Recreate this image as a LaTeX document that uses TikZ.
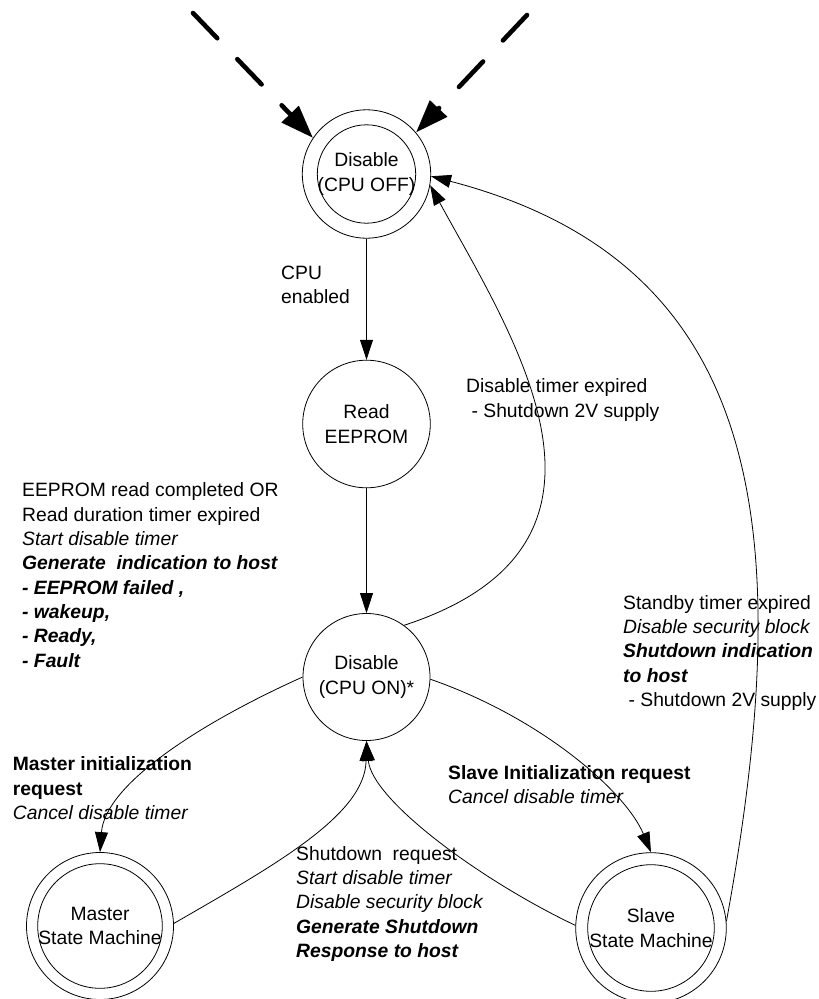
\documentclass[tikz,border=0pt]{standalone}
\usepackage{fontspec}
\setmainfont{Liberation Sans}
\usetikzlibrary{arrows.meta}

\tikzset{
  every node/.style={font=\fontsize{19.3}{24.3}\selectfont},
  state/.style={circle, draw, line width=0.8pt, inner sep=0pt, align=center},
  ring/.style={line width=0.8pt},
  trans/.style={line width=0.8pt, -{Triangle[length=20pt,width=13pt]}},
  initarrow/.style={line width=4.6pt, dash pattern=on 35pt off 29pt,
    line cap=round, -{Triangle[length=33pt,width=23pt]}},
  % multi-line labels: placed by the baseline of their last line
  lbl/.style={anchor=base west, inner sep=0pt, align=left},
}

\begin{document}
\begin{tikzpicture}[x=1pt,y=-1pt]
\useasboundingbox (0,0) rectangle (819,999);

% states
\node[state, minimum size=128.4pt] (off) at (366.5,174) {Disable\\(CPU OFF)};
\draw[ring] (off.center) circle[radius=49.2pt];
\node[state, minimum size=127.6pt] (read) at (366.5,424) {Read\\EEPROM};
\node[state, minimum size=127pt] (on) at (366.5,677) {Disable\\(CPU ON)*};
\node[state, minimum size=147pt] (master) at (100,926) {Master\\State Machine};
\draw[ring] (master.center) circle[radius=62.3pt];
\node[state, minimum size=150.6pt] (slave) at (651,928) {Slave\\State Machine};
\draw[ring] (slave.center) circle[radius=63.3pt];

% entry arrows
\coordinate (inL) at (193,13);
\coordinate (inR) at (527,15);
\draw[initarrow] (inL) -- (off.146);
\draw[initarrow] (inR) -- (off.40);

% transitions
\draw[trans] (off) -- (read);
\draw[trans] (read) -- (on);
\draw[trans] (on.54) .. controls (650,545) and (515,340) .. (off.-10);
\draw[trans] (slave.5) .. controls (800,520) and (760,262) .. (off.-2);
\draw[trans] (on.180) .. controls (198,724) and (105,785) .. (master.90);
\draw[trans] (master.2) .. controls (275,865) and (365,815) .. (on.-90);
\draw[trans] (on.-2) .. controls (542,718) and (626,792) .. (slave.90);
\draw[trans] (slave.178) .. controls (480,880) and (372,800) .. (on.-90);

% transition labels
\node[lbl] (lcpu) at (281,303.5) {CPU\\enabled};
\node[lbl] (ltimer) at (466,417) {Disable timer expired\\\hspace*{0.28em}- Shutdown 2V supply};
\node[lbl] (lread) at (22,667) {EEPROM read completed OR\\Read duration timer expired\\\textit{Start disable timer}\\\textbf{\textit{Generate\ \ indication to host}}\\\textbf{\textit{- EEPROM failed ,}}\\\textbf{\textit{- wakeup,}}\\\textbf{\textit{- Ready,}}\\\textbf{\textit{- Fault}}};
\node[lbl] (lstandby) at (623,706.5) {Standby timer expired\\\textit{Disable security block}\\\textbf{\textit{Shutdown indication}}\\\textbf{\textit{to host}}\\\hspace*{0.28em}- Shutdown 2V supply};
\node[lbl] (lmaster) at (12.7,819.5) {\textbf{Master initialization}\\\textbf{request}\\\textit{Cancel disable timer}};
\node[lbl] (lslave) at (448,803.5) {\textbf{Slave Initialization request}\\\textit{Cancel disable timer}};
\node[lbl] (lshut) at (296,957.5) {Shutdown\ \ request\\\textit{Start disable timer}\\\textit{Disable security block}\\\textbf{\textit{Generate Shutdown}}\\\textbf{\textit{Response to host}}};
\end{tikzpicture}
\end{document}
